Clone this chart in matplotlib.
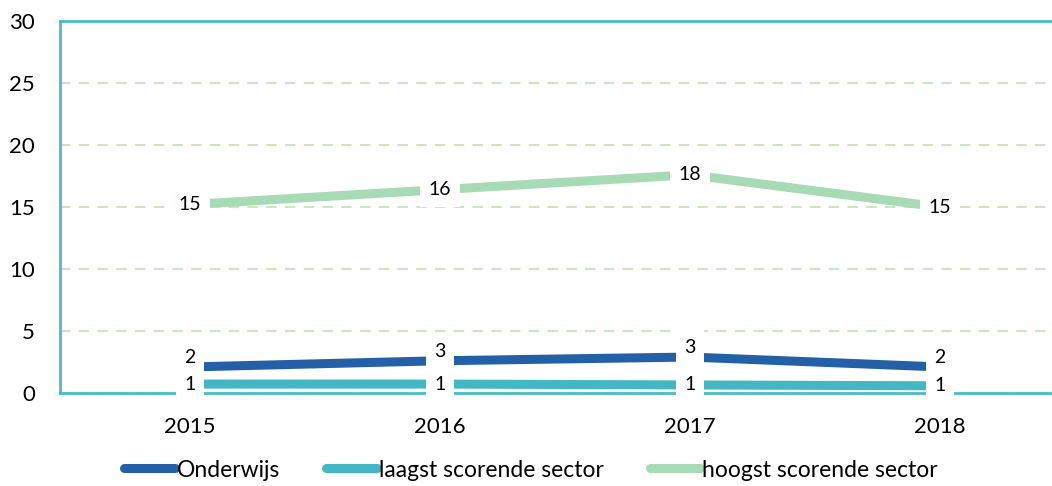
import numpy as np
import matplotlib.pyplot as plt

plt.rcParams['font.family'] = ['Lato', 'DejaVu Sans']

years = ['2015', '2016', '2017', '2018']
onderwijs = [2.1, 2.6, 2.9, 2.1]
laagst = [0.72, 0.72, 0.65, 0.58]
hoogst = [15.2, 16.4, 17.6, 15.0]
series_names = ['Onderwijs', 'laagst scorende sector', 'hoogst scorende sector']

colors = ['#2460a8', '#43b7c4', '#a6dbb6']
teal = '#4bbcc6'
grid_col = '#c9eab8'

fig = plt.figure(figsize=(10.52, 4.86), dpi=100)
ax = fig.add_axes([60/1052, 1-393/486, 1-60/1052, (393-21)/486])

x = np.arange(len(years))
data = [onderwijs, laagst, hoogst]
offsets = [7, 0, 0]
for vals, name, c, off in zip(data, series_names, colors, offsets):
    ax.plot(x, vals, color=c, lw=6.5, solid_capstyle='butt', label=name, zorder=3)
    for xi, v in zip(x, vals):
        ax.annotate(f'{v:.0f}', (xi, v), xytext=(0, off), textcoords='offset points',
                    ha='center', va='center', fontsize=14, color='black', zorder=5,
                    bbox=dict(boxstyle='square,pad=0.45', fc='white', ec='none'))

ax.set_xlim(-0.52, 3.448)
ax.set_ylim(0, 30)
ax.set_yticks(range(0, 31, 5))
ax.set_xticks(x)
ax.set_xticklabels(years)
ax.tick_params(axis='both', length=0, labelsize=16)
ax.tick_params(axis='y', pad=18)
ax.tick_params(axis='x', pad=17)

ax.grid(axis='y', color=grid_col, linestyle=(0, (5, 4)), lw=1.5, zorder=1)
ax.set_axisbelow(True)
for s in ['left', 'top', 'bottom']:
    ax.spines[s].set_color(teal)
    ax.spines[s].set_linewidth(2)
ax.spines['right'].set_visible(False)
ax.spines['bottom'].set_zorder(2)

leg = fig.legend(loc='center', bbox_to_anchor=(0.505, 1-470/486), ncol=3, frameon=False,
                 fontsize=16.5, handlelength=2.2, handletextpad=0.1, columnspacing=2.0)
for h in leg.get_lines():
    h.set_solid_capstyle('round')

fig.savefig('out.png', dpi=100)
